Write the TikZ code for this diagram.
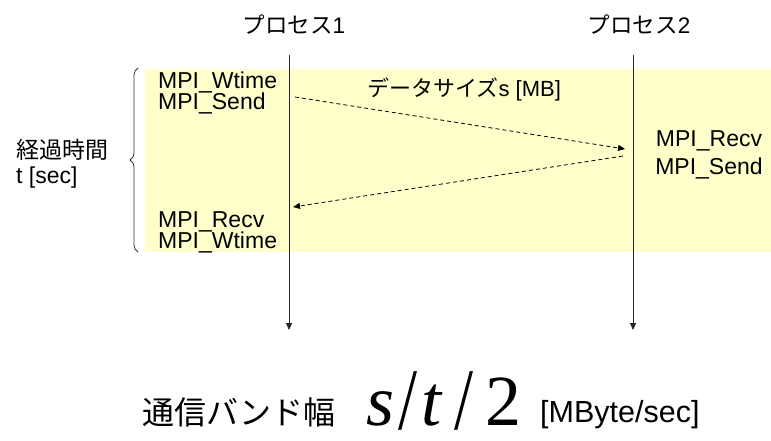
\documentclass[tikz,border=0pt]{standalone}
\usepackage{fontspec}
\setmainfont{Liberation Sans}
\newfontfamily\cjk{Noto Sans CJK JP}
\newfontfamily\tnr{Liberation Serif}
\usetikzlibrary{arrows.meta,decorations.pathreplacing}
\definecolor{paleyellow}{HTML}{FFFFCC}
\begin{document}
\begin{tikzpicture}[x=1pt,y=-1pt,
  lbl/.style={inner sep=0pt,anchor=base west,font=\fontsize{23}{24}\selectfont},
  lblc/.style={inner sep=0pt,anchor=base,font=\fontsize{23}{24}\selectfont},
  proclbl/.style={inner sep=0pt,anchor=base,font=\fontsize{22.5}{24}\selectfont},
  lifeline/.style={draw=black!85,line width=0.9pt,-{Triangle[length=7pt,width=6pt]}},
  msg/.style={draw=black,line width=0.8pt,dash pattern=on 4pt off 3pt,-{Triangle[length=7pt,width=6pt]}},
  formula/.style={inner sep=0pt,anchor=base west,font=\tnr\fontsize{72}{72}\selectfont},
  slashglyph/.style={inner sep=0pt,anchor=center,font=\tnr\fontsize{72}{72}\selectfont}
]
\useasboundingbox (0,0) rectangle (771,440);
% background region
\fill[paleyellow] (145,69) rectangle (771,252);
% brace
\coordinate (bb) at (138,252);
\coordinate (bt) at (138,68);
\draw[black!80,line width=0.8pt,decorate,decoration={brace,amplitude=8pt}] (bb) -- (bt);
% process labels
\node[proclbl] (proc1) at (294,33) {{\cjk プロセス}1};
\node[proclbl] (proc2) at (639,33) {{\cjk プロセス}2};
% lifelines
\coordinate (l1t) at (289,55);
\coordinate (l1b) at (289,330);
\coordinate (l2t) at (633,55);
\coordinate (l2b) at (633,330);
\draw[lifeline] (l1t) -- (l1b);
\draw[lifeline] (l2t) -- (l2b);
% left texts
\node[lbl] (wtime1) at (158,88) {MPI\_Wtime};
\node[lbl] (send1) at (158,109) {MPI\_Send};
\node[lbl] (recv1) at (158,227) {MPI\_Recv};
\node[lbl] (wtime2) at (158,248) {MPI\_Wtime};
% right texts
\node[lblc] (recv2) at (709,146) {MPI\_Recv};
\node[lblc] (send2) at (709,174) {MPI\_Send};
% elapsed time
\node[lbl] (elapsed) at (16,158) {{\cjk 経過時間}};
\node[lbl] (tsec) at (16,183) {t [sec]};
% data size
\node[inner sep=0pt,anchor=base west,font=\fontsize{22}{24}\selectfont] (dsize) at (367,96) {{\cjk データサイズ}s [MB]};
% messages
\coordinate (m1s) at (295,97);
\coordinate (m1e) at (625,149);
\coordinate (m2s) at (623,156);
\coordinate (m2e) at (293,207);
\draw[msg] (m1s) -- (m1e);
\draw[msg] (m2s) -- (m2e);
% bottom formula
\node[inner sep=0pt,anchor=base west,font=\cjk\fontsize{32}{34}\selectfont] (bw) at (142,424) {通信バンド幅};
\node[formula] (fs) at (366,425) {\itshape s};
\node[slashglyph] (sl1) at (408,401) {\scalebox{0.95}[1.22]{/}};
\node[formula] (ft) at (421,425) {\itshape t};
\node[slashglyph] (sl2) at (464,401) {\scalebox{0.95}[1.22]{/}};
\node[formula] (f2) at (485,425) {2};
\node[inner sep=0pt,anchor=base west,font=\fontsize{30.5}{32}\selectfont] (unit) at (540,422) {[MByte/sec]};
\end{tikzpicture}
\end{document}
